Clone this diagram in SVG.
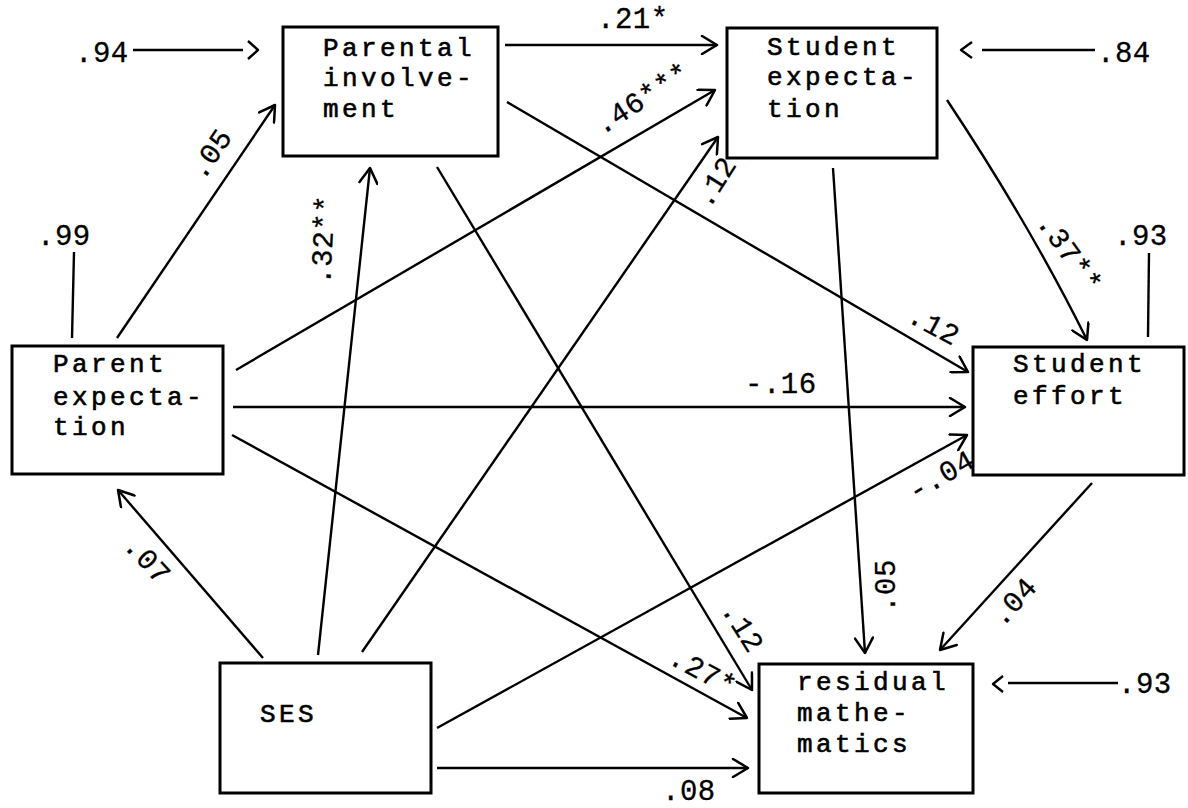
<svg xmlns="http://www.w3.org/2000/svg" width="1188" height="808" viewBox="0 0 1188 808">
  <style>
    .box { fill: none; stroke: #000; stroke-width: 3; }
    .node { font-family: "Liberation Mono", "DejaVu Sans Mono", monospace; font-size: 26px; letter-spacing: 3.4px; fill: #000; stroke: #000; stroke-width: 0.6; }
    .lbl { font-family: "Liberation Mono", "DejaVu Sans Mono", monospace; font-size: 29px; letter-spacing: 0.5px; fill: #000; stroke: #000; stroke-width: 0.3; }
    .rl { text-anchor: middle; dominant-baseline: central; }
    .edge { fill: none; stroke: #000; stroke-width: 2.4; }
    .arr { marker-end: url(#chev); }
  </style>
  <defs>
    <marker id="chev" viewBox="0 0 20 20" refX="18" refY="10" markerWidth="20" markerHeight="20" markerUnits="userSpaceOnUse" orient="auto">
      <path d="M3,1 L18,10 L3,19" fill="none" stroke="#000" stroke-width="2.5" stroke-linecap="round" stroke-linejoin="round"/>
    </marker>
  </defs>
  <rect width="1188" height="808" fill="#fff"/>

  <!-- paths between the variables -->
  <g id="connectors">
    <line class="edge arr" x1="505" y1="45" x2="717" y2="45"/>
    <line class="edge arr" x1="236" y1="370" x2="715" y2="90"/>
    <line class="edge arr" x1="362" y1="652" x2="718" y2="137"/>
    <line class="edge arr" x1="507" y1="102" x2="968" y2="372"/>
    <path class="edge arr" d="M947,100 Q1030,225 1087,340"/>
    <line class="edge arr" x1="833" y1="168" x2="865" y2="653"/>
    <line class="edge arr" x1="437" y1="167" x2="752" y2="690"/>
    <line class="edge arr" x1="232" y1="435" x2="747" y2="718"/>
    <line class="edge arr" x1="233" y1="407" x2="965" y2="407"/>
    <line class="edge arr" x1="263" y1="658" x2="118" y2="490"/>
    <line class="edge arr" x1="318" y1="655" x2="370" y2="168"/>
    <line class="edge arr" x1="437" y1="728" x2="967" y2="435"/>
    <line class="edge arr" x1="1092" y1="483" x2="940" y2="650"/>
    <line class="edge arr" x1="437" y1="768" x2="748" y2="768"/>
    <line class="edge arr" x1="117" y1="338" x2="275" y2="105"/>

    <!-- residual (disturbance) terms -->
    <line class="edge" x1="133" y1="50" x2="243" y2="50"/>
    <path class="edge" d="M248,41 L258,50 L248,59" stroke-linejoin="round"/>
    <line class="edge" x1="982" y1="50" x2="1095" y2="50"/>
    <path class="edge" d="M972,42 L961,50 L972,58" stroke-linejoin="round"/>
    <line class="edge" x1="1008" y1="683" x2="1118" y2="683"/>
    <path class="edge" d="M1003,676 L993,684 L1003,692" stroke-linejoin="round"/>
    <line class="edge" x1="74" y1="252" x2="72" y2="338"/>
    <line class="edge" x1="1149" y1="253" x2="1148" y2="337"/>

    <!-- path coefficients -->
    <text class="lbl" x="597" y="28">.21*</text>
    <text class="lbl" x="745" y="393">-.16</text>
    <text class="lbl" x="662" y="800">.08</text>
    <text class="lbl" x="75" y="62">.94</text>
    <text class="lbl" x="1097" y="62">.84</text>
    <text class="lbl" x="1118" y="693">.93</text>
    <text class="lbl" x="37" y="245">.99</text>
    <text class="lbl" x="1114" y="245">.93</text>
    <text class="lbl rl" transform="translate(643,100) rotate(-33)">.46***</text>
    <text class="lbl rl" transform="translate(717,183) rotate(-58)">.12</text>
    <text class="lbl rl" transform="translate(933,327) rotate(28)">.12</text>
    <text class="lbl rl" transform="translate(1068,254) rotate(54)">.37**</text>
    <text class="lbl rl" transform="translate(212,155) rotate(-56)">.05</text>
    <text class="lbl rl" transform="translate(325,240) rotate(-87)">.32**</text>
    <text class="lbl rl" transform="translate(887,586) rotate(-90)">.05</text>
    <text class="lbl rl" transform="translate(741,628) rotate(58)">.12</text>
    <text class="lbl rl" transform="translate(702,673) rotate(28)">.27*</text>
    <text class="lbl rl" transform="translate(942,477) rotate(-30)">-.04</text>
    <text class="lbl rl" transform="translate(1015,603) rotate(-48)">.04</text>
    <text class="lbl rl" transform="translate(146,561) rotate(47)">.07</text>
  </g>

  <g id="parental-involvement">
    <rect class="box" x="283" y="27" width="215" height="129"/>
    <text class="node" x="323" y="56">Parental</text>
    <text class="node" x="323" y="86">involve-</text>
    <text class="node" x="323" y="117">ment</text>
  </g>

  <g id="student-expectation">
    <rect class="box" x="727" y="28" width="210" height="130"/>
    <text class="node" x="767" y="55">Student</text>
    <text class="node" x="767" y="85">expecta-</text>
    <text class="node" x="767" y="117">tion</text>
  </g>

  <g id="parent-expectation">
    <rect class="box" x="12" y="346" width="211" height="128"/>
    <text class="node" x="53" y="372">Parent</text>
    <text class="node" x="53" y="405">expecta-</text>
    <text class="node" x="53" y="435">tion</text>
  </g>

  <g id="student-effort">
    <rect class="box" x="973" y="347" width="211" height="128"/>
    <text class="node" x="1013" y="372">Student</text>
    <text class="node" x="1013" y="404">effort</text>
  </g>

  <g id="ses">
    <rect class="box" x="220" y="663" width="211" height="130"/>
    <text class="node" x="260" y="722">SES</text>
  </g>

  <g id="residual-mathematics">
    <rect class="box" x="759" y="664" width="214" height="129"/>
    <text class="node" x="797" y="690">residual</text>
    <text class="node" x="797" y="721">mathe-</text>
    <text class="node" x="797" y="752">matics</text>
  </g>
</svg>
